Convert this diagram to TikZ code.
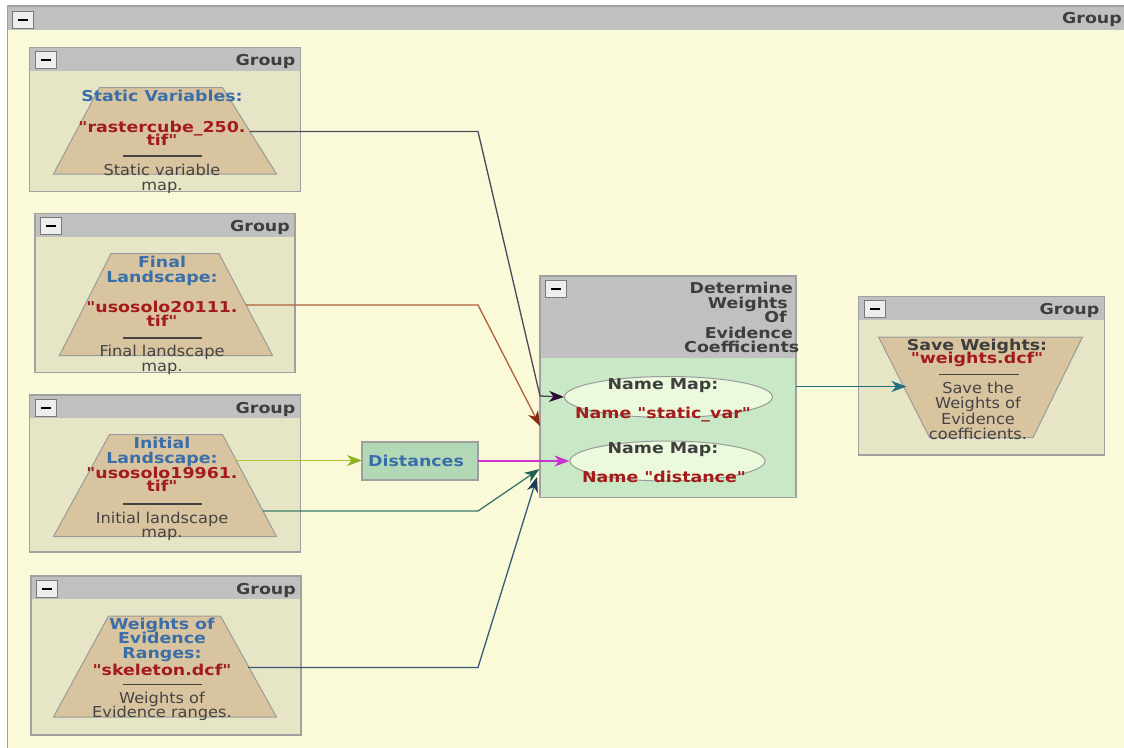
\documentclass[tikz,border=0pt]{standalone}
\usepackage{fontspec}
\setmainfont{DejaVu Sans}[FakeStretch=1.08]
\newfontfamily\widefam{DejaVu Sans}[FakeStretch=1.16]
\usetikzlibrary{arrows.meta,shapes.geometric}

\definecolor{canvasc}{HTML}{FAFAD9}
\definecolor{groupbg}{HTML}{E6E6C6}
\definecolor{barc}{HTML}{C0C0C0}
\definecolor{framec}{HTML}{A0A0A0}
\definecolor{btnfill}{HTML}{EEEEEE}
\definecolor{btnedge}{HTML}{7A7A7A}
\definecolor{tanc}{HTML}{D9C4A0}
\definecolor{trapedge}{HTML}{9A9A9A}
\definecolor{detbody}{HTML}{C8E8C6}
\definecolor{ellfill}{HTML}{EBFADC}
\definecolor{distfill}{HTML}{B2D8B6}
\definecolor{bluec}{HTML}{3A6EA8}
\definecolor{redc}{HTML}{A31B1B}
\definecolor{hdrc}{HTML}{3E3E3E}
\definecolor{descc}{HTML}{444444}
\definecolor{lnA}{HTML}{54445A}\definecolor{hdA}{HTML}{2A0A30}
\definecolor{lnB}{HTML}{B0603C}\definecolor{hdB}{HTML}{8B2A0A}
\definecolor{lnC}{HTML}{A6C436}\definecolor{hdC}{HTML}{8CB020}
\definecolor{lnD}{HTML}{CC33CC}
\definecolor{lnE}{HTML}{3A7A66}\definecolor{hdE}{HTML}{1F5F4F}
\definecolor{lnF}{HTML}{3A5A7A}\definecolor{hdF}{HTML}{1A3A5A}
\definecolor{lnG}{HTML}{1F6F80}

\tikzset{
  frame/.style={draw=framec, line width=1.5pt, inner sep=0pt, outer sep=0pt},
  grpframe/.style={frame, fill=groupbg},
  btn/.style={draw=btnedge, fill=btnfill, line width=0.8pt, inner sep=0pt, outer sep=0pt,
    minimum width=21pt, minimum height=17pt},
  hdr/.style={font=\widefam\bfseries\fontsize{15}{15}\selectfont, text=hdrc, inner sep=0pt, anchor=base east},
  lbl/.style={font=\widefam\bfseries\fontsize{15}{15}\selectfont, text=bluec, inner sep=0pt, anchor=base},
  fname/.style={lbl, text=redc},
  dark/.style={lbl, text=hdrc},
  desc/.style={font=\fontsize{15}{15}\selectfont, text=descc, inner sep=0pt, anchor=base},
  trap/.style={fill=tanc, draw=trapedge, line width=1pt},
  rule/.style={draw=descc, line width=1.2pt},
  ell/.style={ellipse, draw=trapedge, fill=ellfill, line width=1pt, inner sep=0pt},
  tip/.style={-{Stealth[length=15pt, width=11pt, inset=4.5pt, #1]}},
  conn/.style={line width=1.3pt},
}

% framed group with grey title bar, collapse button and right-aligned caption
\newcommand{\groupbox}[6]{% name, x, y, width, height, caption
  \node[grpframe, minimum width=#4pt, minimum height=#5pt, anchor=north west] (#1) at (#2,#3) {};
  \fill[barc] (#1.north west) rectangle ([yshift=-23pt]#1.north east);
  \draw[framec, line width=1.5pt] (#1.north west) rectangle (#1.south east);
  \node[btn, anchor=north west] (#1-btn) at ([xshift=5.5pt,yshift=-4pt]#1.north west) {};
  \draw[line width=2pt] ([xshift=-5pt]#1-btn.center) -- ([xshift=5pt]#1-btn.center);
  \node[hdr] (#1-title) at ([xshift=-5pt,yshift=-18pt]#1.north east) {#6};
}

\begin{document}
\begin{tikzpicture}[x=1pt,y=-1pt]
\useasboundingbox (0,0) rectangle (1124,747);
\clip (0,0) rectangle (1124,747);
\fill[white] (0,0) rectangle (1124,747);

% outer container
\node[frame, fill=canvasc, minimum width=1130pt, minimum height=760pt, anchor=north west] (outer) at (7.5,6) {};
\fill[barc] (outer.north west) rectangle ([yshift=-24pt]outer.north east);
\draw[framec, line width=1.5pt] (outer.north west) rectangle (outer.south east);
\node[btn, anchor=north west] (outer-btn) at (12.5,11) {};
\draw[line width=2pt] ([xshift=-5pt]outer-btn.center) -- ([xshift=5pt]outer-btn.center);
\node[hdr] (outer-title) at (1122,23.5) {Group};

% ---- static variables
\groupbox{g1}{29.5}{47.5}{271}{144}{Group}
\draw[trap] (99.5,87.5) -- (222.5,87.5) -- (276.5,174) -- (53.5,174) -- cycle;
\node[lbl] (g1a) at (162,101) {Static Variables:};
\node[fname] (g1b) at (162,132) {"rastercube\_250.};
\node[fname] (g1c) at (162,145) {tif"};
\draw[rule] (123,156) -- (202,156);
\node[desc] (g1d) at (162,175) {Static variable};
\node[desc] (g1e) at (162,190.5) {map.};

% ---- final landscape
\groupbox{g2}{35}{213.5}{260}{159}{Group}
\draw[trap] (111,253.5) -- (219,253.5) -- (272.5,355.5) -- (59.5,355.5) -- cycle;
\node[lbl] (g2a) at (162,267) {Final};
\node[lbl] (g2b) at (162,282) {Landscape:};
\node[fname] (g2c) at (162,312) {"usosolo20111.};
\node[fname] (g2d) at (162,326) {tif"};
\draw[rule] (123,338) -- (202,338);
\node[desc] (g2e) at (162,356) {Final landscape};
\node[desc] (g2f) at (162,371) {map.};

% ---- initial landscape
\groupbox{g3}{29.5}{395}{271}{157}{Group}
\draw[trap] (109.5,434.5) -- (222.5,434.5) -- (276.5,536.5) -- (53.5,536.5) -- cycle;
\node[lbl] (g3a) at (162,448) {Initial};
\node[lbl] (g3b) at (162,463) {Landscape:};
\node[fname] (g3c) at (162,478) {"usosolo19961.};
\node[fname] (g3d) at (162,491.5) {tif"};
\draw[rule] (123,504) -- (202,504);
\node[desc] (g3e) at (162,523) {Initial landscape};
\node[desc] (g3f) at (162,537) {map.};

% ---- weights of evidence ranges
\groupbox{g4}{31}{576}{270}{159}{Group}
\draw[trap] (108.5,616) -- (220.5,616) -- (276.5,717) -- (53.5,717) -- cycle;
\node[lbl] (g4a) at (162,629) {Weights of};
\node[lbl] (g4b) at (162,643.5) {Evidence};
\node[lbl] (g4c) at (162,658) {Ranges:};
\node[fname] (g4d) at (162,675) {"skeleton.dcf"};
\draw[rule] (123,684.5) -- (202,684.5);
\node[desc] (g4e) at (162,703) {Weights of};
\node[desc] (g4f) at (162,717) {Evidence ranges.};

% ---- distances
\node[frame, fill=distfill, minimum width=116pt, minimum height=38pt, anchor=north west] (dist) at (362,442) {};
\node[lbl, anchor=base west] (dist-txt) at (368,466) {Distances};

% ---- determine weights of evidence coefficients
\node[frame, fill=detbody, minimum width=256pt, minimum height=221.5pt, anchor=north west] (det) at (540,276) {};
\fill[barc] (det.north west) rectangle ([yshift=-82pt]det.north east);
\draw[framec, line width=1.5pt] (det.north west) rectangle (det.south east);
\node[btn, anchor=north west] (det-btn) at (545.5,280) {};
\draw[line width=2pt] ([xshift=-5pt]det-btn.center) -- ([xshift=5pt]det-btn.center);
\node[hdr] (det-t1) at (793,293) {Determine};
\node[hdr] (det-t2) at (788,308) {Weights};
\node[hdr] (det-t3) at (787,322.5) {Of};
\node[hdr] (det-t4) at (793,338) {Evidence};
\node[hdr] (det-t5) at (799.5,352.5) {Coefficients};

\node[ell, minimum width=208pt, minimum height=41pt] (e1) at (668.5,397) {};
\node[dark] (e1a) at (663,389) {Name Map:};
\node[fname] (e1b) at (663,418) {Name "static\_var"};
\node[ell, minimum width=195pt, minimum height=40pt] (e2) at (667.5,461) {};
\node[dark] (e2a) at (663,453) {Name Map:};
\node[fname] (e2b) at (664,482) {Name "distance"};

% ---- save weights
\groupbox{g5}{858.5}{296.5}{246}{158.5}{Group}
\draw[trap] (878.5,337) -- (1082.5,337) -- (1033,437.5) -- (929.5,437.5) -- cycle;
\node[dark] (g5a) at (977,350) {Save Weights:};
\node[fname] (g5b) at (977,363.5) {"weights.dcf"};
\draw[rule] (939,374.5) -- (1019,374.5);
\node[desc] (g5c) at (978,393) {Save the};
\node[desc] (g5d) at (978,408.5) {Weights of};
\node[desc] (g5e) at (978,424) {Evidence};
\node[desc] (g5f) at (978,439.5) {coefficients.};

% ---- connector end points
\coordinate (s1) at (249.5,131.5);
\coordinate (s2) at (246,305);
\coordinate (s3) at (236,460.5);
\coordinate (s5) at (263,511);
\coordinate (s6) at (248,667.5);
\coordinate (d2) at (540,426);
\coordinate (d5) at (539.5,469);
\coordinate (d6) at (537,477);
\coordinate (s7) at (796,386.5);
\coordinate (d7) at (906.5,386.5);

% ---- connectors
\draw[conn, lnA, tip={color=hdA}] (s1) -- (478,131.5) -- (540,396) -- (e1.west);
\draw[conn, lnB, tip={color=hdB}] (s2) -- (478,305) -- (d2);
\draw[conn, lnC, tip={color=hdC}] (s3) -- (dist.west |- s3);
\draw[conn, lnD, tip={color=lnD}] (dist.east |- e2) -- (e2.west);
\draw[conn, lnE, tip={color=hdE}] (s5) -- (478,511) -- (d5);
\draw[conn, lnF, tip={color=hdF}] (s6) -- (478,667.5) -- (d6);
\draw[conn, lnG, tip={color=lnG}] (s7) -- (d7);
\end{tikzpicture}
\end{document}
